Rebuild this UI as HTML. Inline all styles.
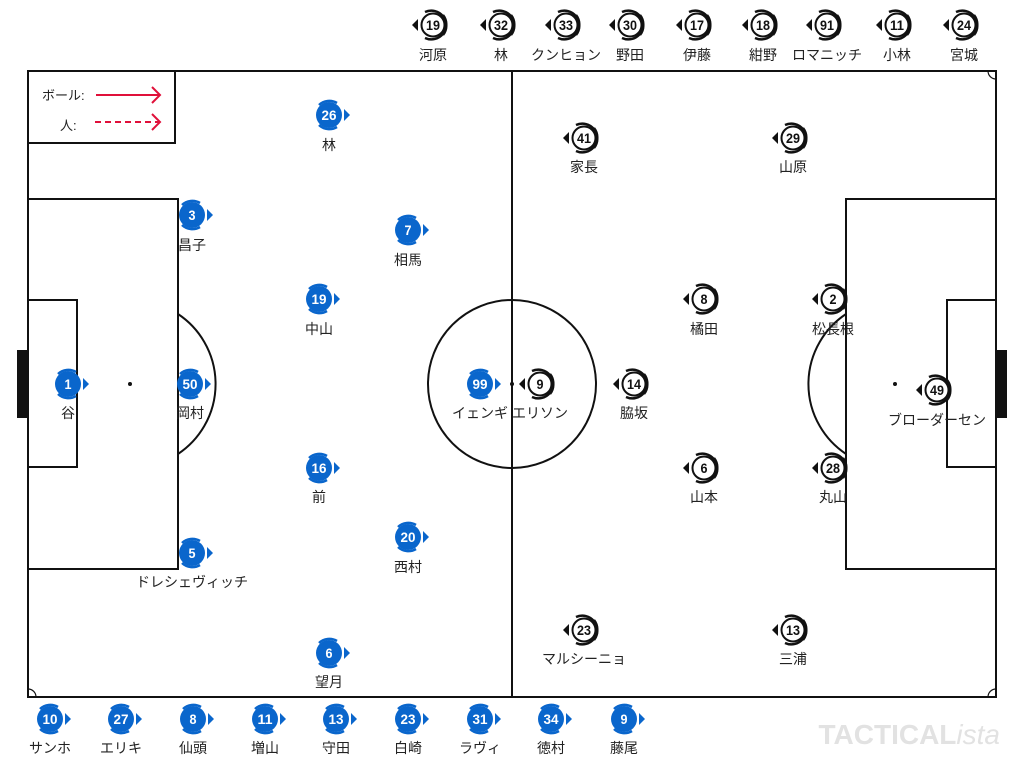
<!DOCTYPE html>
<html><head><meta charset="utf-8"><style>
html,body{margin:0;padding:0;background:#fff;width:1024px;height:768px;overflow:hidden}
svg text{font-family:"Liberation Sans","Noto Sans CJK JP",sans-serif}
</style></head><body>
<svg id="s" width="1024" height="768" viewBox="0 0 1024 768" xmlns="http://www.w3.org/2000/svg">
<g fill="none" stroke="#111" stroke-width="2">
<rect x="28" y="71" width="968" height="626"/>
<line x1="512" y1="71" x2="512" y2="697"/>
<circle cx="512" cy="384" r="84"/>
<rect x="28" y="199" width="150" height="370"/>
<rect x="28" y="300" width="49" height="167"/>
<rect x="846" y="199" width="150" height="370"/>
<rect x="947" y="300" width="49" height="167"/>
<path d="M178 314 A84 84 0 0 1 178 454"/>
<path d="M846 314 A84 84 0 0 0 846 454"/>
<path d="M988 71 A8 8 0 0 0 996 79 M28 689 A8 8 0 0 1 36 697 M988 697 A8 8 0 0 1 996 689" stroke-width="1.2"/>
<rect x="28" y="71" width="147" height="72" fill="#fff"/>
</g>
<rect x="17" y="350" width="11" height="68" fill="#111"/>
<rect x="996" y="350" width="11" height="68" fill="#111"/>
<circle cx="512" cy="384" r="2" fill="#111"/><circle cx="130" cy="384" r="2" fill="#111"/><circle cx="895" cy="384" r="2" fill="#111"/>
<text x="42" y="100" font-size="13" fill="#222">ボール:</text>
<text x="60" y="130" font-size="13" fill="#222">人:</text>
<g stroke="#e0103a" stroke-width="2" fill="none">
<line x1="96" y1="95" x2="160" y2="95"/><path d="M152 87 L160 95 L152 103"/>
<line x1="95" y1="122" x2="160" y2="122" stroke-dasharray="6 4"/><path d="M152 114 L160 122 L152 130"/>
</g>
<text x="1000" y="744" font-size="28" font-weight="bold" fill="#e2e2e2" text-anchor="end">TACTICAL<tspan font-weight="normal" font-style="italic">ista</tspan></text>
<g id="p"></g>
</svg>
<script>
var g=document.getElementById('p'),h='';
function B(x,y,n,l,ly){h+='<path d="M'+(x-10)+' '+(y-10)+' A15 15 0 0 1 '+(x+8)+' '+(y-12)+' M'+(x-10)+' '+(y+10)+' A15 15 0 0 0 '+(x+8)+' '+(y+12)+'" stroke="#0a66cc" stroke-width="2.5" fill="none"/><circle cx="'+x+'" cy="'+y+'" r="13" fill="#0a66cc"/><path d="M'+(x+15)+' '+(y-6)+' L'+(x+21)+' '+y+' L'+(x+15)+' '+(y+6)+'Z" fill="#0a66cc"/><text x="'+x+'" y="'+(y+5)+'" font-size="14" font-weight="bold" fill="#fff" text-anchor="middle" textLength="'+(n.length>1?15:7)+'" lengthAdjust="spacingAndGlyphs">'+n+'</text>';
 if(l)h+='<text x="'+x+'" y="'+ly+'" font-size="14" fill="#222" text-anchor="middle">'+l+'</text>';}
function W(x,y,n,l,ly){h+='<path d="M'+(x-8)+' '+(y-13)+' A15 15 0 0 1 '+(x+10)+' '+(y+10)+' M'+(x-8)+' '+(y+13)+' A15 15 0 0 0 '+(x+10)+' '+(y-10)+'" stroke="#111" stroke-width="2.5" fill="none"/><circle cx="'+x+'" cy="'+y+'" r="11.5" fill="#fff" stroke="#111" stroke-width="2"/><path d="M'+(x-15)+' '+(y-6)+' L'+(x-21)+' '+y+' L'+(x-15)+' '+(y+6)+'Z" fill="#111"/><text x="'+x+'" y="'+(y+5)+'" font-size="14" font-weight="bold" fill="#111" text-anchor="middle" textLength="'+(n.length>1?14:7)+'" lengthAdjust="spacingAndGlyphs">'+n+'</text>';
 if(l)h+='<text x="'+x+'" y="'+ly+'" font-size="14" fill="#222" text-anchor="middle">'+l+'</text>';}
B(329,115,'26','林',150);B(192,215,'3','昌子',250);B(408,230,'7','相馬',265);B(319,299,'19','中山',334);
B(68,384,'1','谷',418);B(190,384,'50','岡村',418);B(480,384,'99','イェンギ',418);B(319,468,'16','前',502);
B(192,553,'5','ドレシェヴィッチ',587);B(408,537,'20','西村',572);B(329,653,'6','望月',687);
W(584,138,'41','家長',172);W(793,138,'29','山原',172);W(704,299,'8','橘田',334);W(833,299,'2','松長根',334);
W(540,384,'9','エリソン',418);W(634,384,'14','脇坂',418);W(937,390,'49','ブローダーセン',425);
W(704,468,'6','山本',502);W(833,468,'28','丸山',502);W(584,630,'23','マルシーニョ',664);W(793,630,'13','三浦',664);
[[433,'19','河原'],[501,'32','林'],[566,'33','クンヒョン'],[630,'30','野田'],[697,'17','伊藤'],[763,'18','紺野'],[827,'91','ロマニッチ'],[897,'11','小林'],[964,'24','宮城']].forEach(function(a){W(a[0],25,a[1],a[2],60);});
[[50,'10','サンホ'],[121,'27','エリキ'],[193,'8','仙頭'],[265,'11','増山'],[336,'13','守田'],[408,'23','白崎'],[480,'31','ラヴィ'],[551,'34','徳村'],[624,'9','藤尾']].forEach(function(a){B(a[0],719,a[1],a[2],753);});
g.innerHTML=h;
</script>
</body></html>
